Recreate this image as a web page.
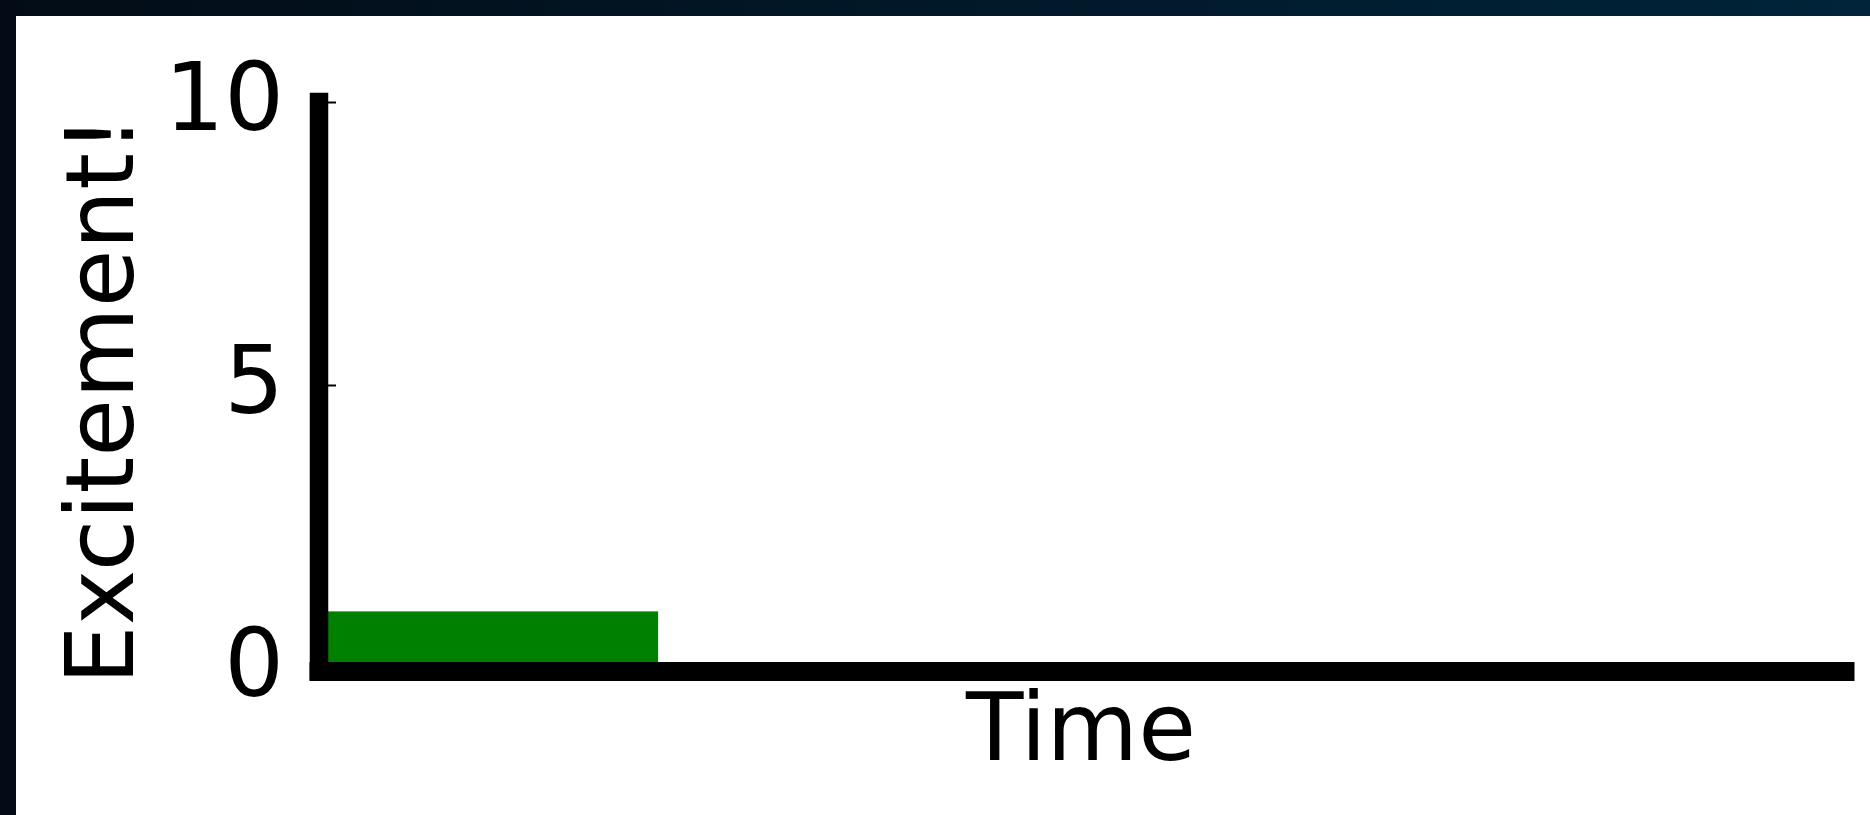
<!DOCTYPE html>
<html>
<head>
<meta charset="utf-8">
<script src="https://cdn.jsdelivr.net/npm/d3@7"></script>
<style>
  html, body {
    margin: 0;
    padding: 0;
    width: 1870px;
    height: 815px;
    overflow: hidden;
    background: linear-gradient(to right, #030c16, #00243a);
  }
  svg { display: block; }
</style>
</head>
<body>
<div id="wrapper"></div>
<script>
// Data
const barStarts = [0];
const barEnds = [1];
const excitement = [1];
const xDomain = [0, 4.5];
const yDomain = [0, 10];
const yTicks = [0, 5, 10];
const xLabel = 'Time';
const yLabel = 'Excitement!';

function drawChart() {
  const dimensions = {
    width: 1870,
    height: 815,
    frame: 16,
    margin: { top: 102, right: 24, bottom: 147, left: 319 },
  };
  dimensions.boundedWidth =
    dimensions.width - dimensions.margin.left - dimensions.margin.right;
  dimensions.boundedHeight =
    dimensions.height - dimensions.margin.top - dimensions.margin.bottom;

  const fontSize = 94;
  const spineWidth = 18.5;

  // Scales
  const xScale = d3
    .scaleLinear()
    .domain(xDomain)
    .range([0, dimensions.boundedWidth - 1]);

  const yScale = d3
    .scaleLinear()
    .domain(yDomain)
    .range([dimensions.boundedHeight, 0]);

  // Canvas
  const svg = d3
    .select('#wrapper')
    .append('svg')
    .attr('width', dimensions.width)
    .attr('height', dimensions.height);

  svg
    .append('rect')
    .attr('x', dimensions.frame)
    .attr('y', dimensions.frame)
    .attr('width', dimensions.width - dimensions.frame)
    .attr('height', dimensions.height - dimensions.frame)
    .attr('fill', '#ffffff');

  const bounds = svg
    .append('g')
    .attr(
      'transform',
      `translate(${dimensions.margin.left}, ${dimensions.margin.top})`
    );

  // Bars
  bounds
    .selectAll('rect.bar')
    .data(excitement)
    .join('rect')
    .attr('class', 'bar')
    .attr('x', (d, i) => xScale(barStarts[i]))
    .attr('width', (d, i) => xScale(barEnds[i]) - xScale(barStarts[i]))
    .attr('y', (d) => yScale(d))
    .attr('height', (d) => yScale(0) - yScale(d))
    .attr('fill', '#008000');

  // Y axis (ticks inward, labels on the left)
  const yAxis = d3
    .axisLeft(yScale)
    .tickValues(yTicks)
    .tickSize(-17)
    .tickPadding(35)
    .tickFormat(d3.format('d'));

  const yAxisGroup = bounds.append('g').call(yAxis);
  yAxisGroup.select('.domain').remove();
  yAxisGroup.selectAll('.tick line').attr('stroke', '#000').attr('stroke-width', 2);
  yAxisGroup
    .selectAll('.tick text')
    .attr('dy', null)
    .attr('y', 27)
    .attr('fill', '#000')
    .style('font-family', '"DejaVu Sans", sans-serif')
    .style('font-size', fontSize + 'px');
  yAxisGroup.attr('font-family', null).attr('font-size', null);

  // Spines
  bounds
    .append('line')
    .attr('x1', 0)
    .attr('x2', 0)
    .attr('y1', yScale(0) + 3)
    .attr('y2', yScale(yDomain[1]))
    .attr('stroke', '#000')
    .attr('stroke-width', spineWidth)
    .attr('stroke-linecap', 'square');

  bounds
    .append('line')
    .attr('x1', 0)
    .attr('x2', xScale(xDomain[1]))
    .attr('y1', yScale(0) + 3.5)
    .attr('y2', yScale(0) + 3.5)
    .attr('stroke', '#000')
    .attr('stroke-width', spineWidth + 0.5)
    .attr('stroke-linecap', 'square');

  // Axis labels
  bounds
    .append('text')
    .attr('x', (xScale(xDomain[0]) + xScale(xDomain[1])) / 2 - 1)
    .attr('y', dimensions.boundedHeight + 92)
    .attr('text-anchor', 'middle')
    .attr('fill', '#000')
    .style('font-family', '"DejaVu Sans", sans-serif')
    .style('font-size', fontSize + 'px')
    .text(xLabel);

  bounds
    .append('text')
    .attr('transform', `translate(${133 - dimensions.margin.left}, ${400 - dimensions.margin.top}) rotate(-90)`)
    .attr('text-anchor', 'middle')
    .attr('fill', '#000')
    .style('font-family', '"DejaVu Sans", sans-serif')
    .style('font-size', fontSize + 'px')
    .text(yLabel);
}
drawChart();
</script>
</body>
</html>
